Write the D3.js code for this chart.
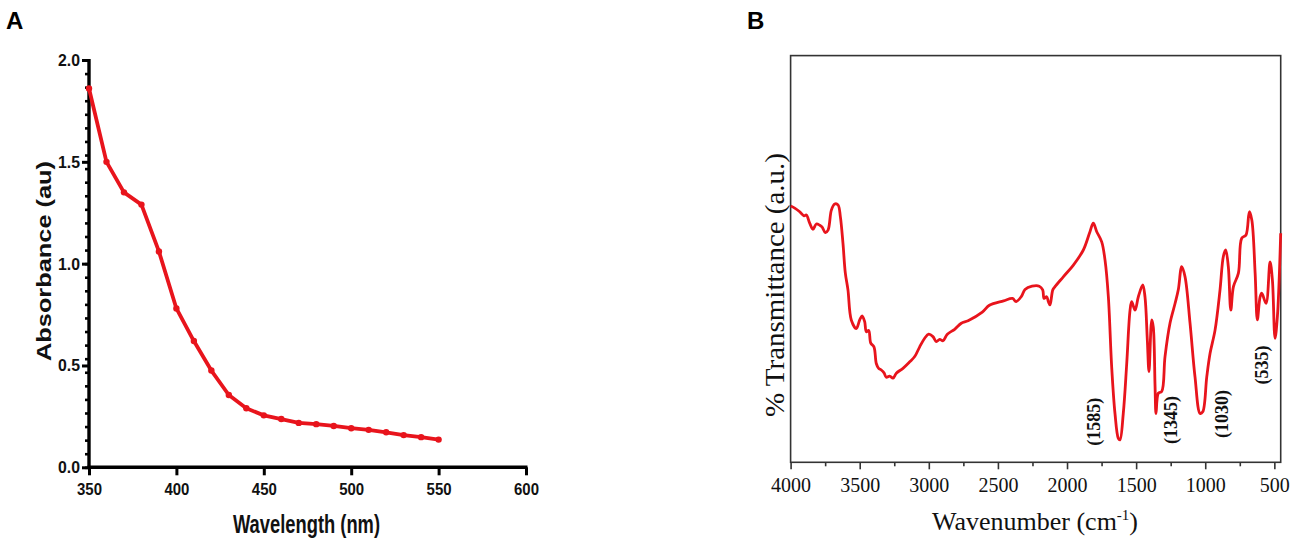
<!DOCTYPE html>
<html><head><meta charset="utf-8">
<script src="https://cdn.jsdelivr.net/npm/d3@7"></script>
<style>html,body{margin:0;padding:0;background:#fff;} svg{display:block;}</style>
</head><body><svg id="c" width="1299" height="549"></svg>
<script>
// ---------- Panel A data (UV-Vis) ----------
const uvWavelength = [350,360,370,380,390,400,410,420,430,440,450,460,470,480,490,500,510,520,530,540,550];
const uvAbsorbance = [1.86,1.50,1.35,1.29,1.06,0.78,0.62,0.475,0.355,0.29,0.255,0.237,0.218,0.212,0.203,0.192,0.184,0.172,0.158,0.148,0.136];
const uvXTicks = [350,400,450,500,550,600];
const uvYTicks = [0,0.5,1.0,1.5,2.0];
const uvXLabel = "Wavelength (nm)";
const uvYLabel = "Absorbance (au)";

// ---------- Panel B data (FTIR) ----------
const irWavenumber = [3999,3970,3934,3903,3886,3862,3838,3814,3789,3773,
  3749,3729,3705,3681,3657,3640,3621,3604,3585,3561,
  3525,3500,3483,3464,3452,3435,3420,3397,3380,3363,
  3344,3324,3308,3283,3259,3235,3187,3138,3102,3066,
  3030,3001,2970,2946,2921,2897,2866,2813,2765,2716,
  2613,2562,2459,2394,2369,2330,2304,2253,2201,2176,
  2166,2147,2135,2123,2103,2087,2027,1954,1882,1834,
  1810,1785,1749,1725,1701,1677,1653,1629,1617,1593,
  1568,1544,1532,1508,1484,1452,1436,1419,1407,1387,
  1376,1363,1356,1339,1315,1291,1255,1218,1195,1170,
  1146,1110,1074,1037,1018,989,965,929,893,869,
  852,833,815,796,760,736,705,681,663,639,
  623,603,591,560,531,514,495,478,454];
const irTransmittance = [63.0,62.5,61.6,60.6,60.8,58.8,57.3,58.6,58.3,57.9,
  56.5,57.1,62.0,63.5,63.3,60.4,53.8,46.5,42.4,35.0,
  32.9,35.0,36.0,34.6,32.1,32.4,29.3,28.4,24.3,23.1,
  22.7,22.0,20.9,21.2,20.7,21.9,23.1,24.7,26.0,28.4,
  30.5,31.5,30.9,29.7,30.2,29.9,31.5,32.7,34.2,34.8,
  36.9,38.6,39.7,40.3,39.5,40.8,42.5,43.3,43.3,42.4,
  40.3,40.7,39.5,38.7,42.4,43.2,45.6,48.5,52.2,56.7,
  58.8,56.7,54.2,49.7,40.7,23.5,12.0,5.9,5.5,12.0,
  24.3,37.4,39.5,37.4,40.7,43.6,40.7,30.1,22.3,35.0,
  33.3,18.6,12.0,17.0,17.4,26.0,34.2,39.1,42.4,48.1,
  45.6,34.2,21.0,12.0,12.4,21.0,26.8,32.5,42.4,50.6,
  52.2,48.1,37.4,43.2,46.5,55.1,55.9,61.6,59.6,46.5,
  35.0,40.7,41.6,39.1,49.3,44.8,30.5,35.8,56.3];
const irXTicks = [4000,3500,3000,2500,2000,1500,1000,500];
const irMinorTicks = [3750,3250,2750,2250,1750,1250,750];
const irPeakLabels = ["(1585)","(1345)","(1030)","(535)"];
const irPeakLabelWn = [1805,1247,878,589];
const irPeakLabelT = [10.0,10.4,11.9,23.9];

const svg = d3.select("#c");
svg.append("rect").attr("width",1299).attr("height",549).attr("fill","#fff");
const RED = "#e8141c";

// ================= Panel A =================
const xA = d3.scaleLinear().domain([350,600]).range([89,526]);
const yA = d3.scaleLinear().domain([0,2]).range([467.3,60]);
const gA = svg.append("g");
const sansB = "'Liberation Sans', Arial, Helvetica, sans-serif";

// minor ticks on y
const yMinor = d3.range(0,31).map(i=>i*2/30);
gA.append("g").attr("transform","translate(89,0)")
  .call(d3.axisLeft(yA).tickValues(yMinor).tickSize(4).tickFormat(""))
  .call(g=>g.select(".domain").remove())
  .call(g=>g.selectAll("line").attr("stroke","#000").attr("stroke-width",2.6));
// major y
gA.append("g").attr("transform","translate(89,0)")
  .call(d3.axisLeft(yA).tickValues(uvYTicks).tickSize(7).tickPadding(2).tickFormat(d3.format(".1f")))
  .call(g=>g.select(".domain").attr("stroke","#000").attr("stroke-width",3.4).attr("d","M0,"+(yA(0)+1.5)+"V"+(yA(2)-1)))
  .call(g=>g.selectAll("line").attr("stroke","#000").attr("stroke-width",3))
  .call(g=>g.selectAll("text").attr("font-family",sansB).attr("font-weight","bold").attr("font-size","17px").attr("fill","#111").attr("textLength",22).attr("lengthAdjust","spacingAndGlyphs"));
// x axis
gA.append("g").attr("transform","translate(0,"+yA(0)+")")
  .call(d3.axisBottom(xA).tickValues(uvXTicks).tickSize(8).tickPadding(8).tickFormat(d3.format("d")))
  .call(g=>g.select(".domain").attr("stroke","#000").attr("stroke-width",3.4).attr("d","M"+(xA(350)-1.5)+",0H"+(xA(600)+1.5)))
  .call(g=>g.selectAll("line").attr("stroke","#000").attr("stroke-width",3))
  .call(g=>g.selectAll("text").attr("font-family",sansB).attr("font-weight","bold").attr("font-size","17px").attr("fill","#111").attr("textLength",25).attr("lengthAdjust","spacingAndGlyphs"));

const uvData = uvWavelength.map((w,i)=>({x:w,y:uvAbsorbance[i]}));
gA.append("path").datum(uvData)
  .attr("fill","none").attr("stroke",RED).attr("stroke-width",3.8).attr("stroke-linejoin","round")
  .attr("d",d3.line().x(d=>xA(d.x)).y(d=>yA(d.y)));
gA.selectAll("circle.pt").data(uvData).join("circle")
  .attr("cx",d=>xA(d.x)).attr("cy",d=>yA(d.y)).attr("r",3.2).attr("fill",RED);

gA.append("text").attr("x",306.5).attr("y",533).attr("text-anchor","middle")
  .attr("font-family",sansB).attr("font-weight","bold").attr("font-size","25px").attr("fill","#111")
  .attr("textLength",147).attr("lengthAdjust","spacingAndGlyphs").text(uvXLabel);
gA.append("text").attr("transform","translate(51,261) rotate(-90)").attr("text-anchor","middle")
  .attr("font-family",sansB).attr("font-weight","bold").attr("font-size","21px").attr("fill","#111")
  .attr("textLength",200).attr("lengthAdjust","spacingAndGlyphs").text(uvYLabel);
svg.append("text").attr("x",6).attr("y",28.5).attr("font-family",sansB).attr("font-weight","bold")
  .attr("font-size","24px").attr("fill","#000").text("A");

// ================= Panel B =================
const xB = d3.scaleLinear().domain([4000,454]).range([790.6,1280.7]);
const yB = d3.scaleLinear().domain([0,100]).range([462.3,55.6]);
const gB = svg.append("g");
const serif = "'Liberation Serif','Times New Roman',Times,serif";

gB.append("rect").attr("x",xB(4000)).attr("y",yB(100)).attr("width",xB(454)-xB(4000)).attr("height",yB(0)-yB(100))
  .attr("fill","none").attr("stroke","#333").attr("stroke-width",1.6);

gB.append("g").attr("transform","translate(0,"+yB(0)+")")
  .call(d3.axisBottom(xB).tickValues(irMinorTicks).tickSize(4).tickFormat(""))
  .call(g=>g.select(".domain").remove())
  .call(g=>g.selectAll("line").attr("stroke","#333").attr("stroke-width",1.6));
gB.append("g").attr("transform","translate(0,"+yB(0)+")")
  .call(d3.axisBottom(xB).tickValues(irXTicks).tickSize(7).tickPadding(9).tickFormat(d3.format("d")))
  .call(g=>g.select(".domain").remove())
  .call(g=>g.selectAll("line").attr("stroke","#333").attr("stroke-width",1.6))
  .call(g=>g.selectAll("text").attr("font-family",serif).attr("font-size","20px").attr("fill","#111"));

const irData = irWavenumber.map((w,i)=>({x:w,y:irTransmittance[i]}));
gB.append("path").datum(irData)
  .attr("fill","none").attr("stroke",RED).attr("stroke-width",2.8).attr("stroke-linejoin","round")
  .attr("d",d3.line().curve(d3.curveCatmullRom.alpha(0.5)).x(d=>xB(d.x)).y(d=>yB(d.y)));

irPeakLabels.forEach((lab,i)=>{
  gB.append("text").attr("transform","translate("+xB(irPeakLabelWn[i])+","+yB(irPeakLabelT[i])+") rotate(-90)")
    .attr("text-anchor","middle").attr("dominant-baseline","central")
    .attr("font-family",serif).attr("font-weight","bold").attr("font-size","18px").attr("fill","#111").text(lab);
});

const xt = gB.append("text").attr("x",1035).attr("y",530).attr("text-anchor","middle")
  .attr("font-family",serif).attr("font-size","26px").attr("fill","#111");
xt.append("tspan").text("Wavenumber (cm");
xt.append("tspan").attr("dy",-10).attr("font-size","15px").text("-1");
xt.append("tspan").attr("dy",10).text(")");

gB.append("text").attr("transform","translate(784,285) rotate(-90)").attr("text-anchor","middle")
  .attr("font-family",serif).attr("font-size","27px").attr("fill","#111")
  .attr("textLength",264).attr("lengthAdjust","spacingAndGlyphs").text("% Transmittance (a.u.)");

svg.append("text").attr("x",747).attr("y",28.5).attr("font-family",sansB).attr("font-weight","bold")
  .attr("font-size","24px").attr("fill","#000").text("B");
</script></body></html>
